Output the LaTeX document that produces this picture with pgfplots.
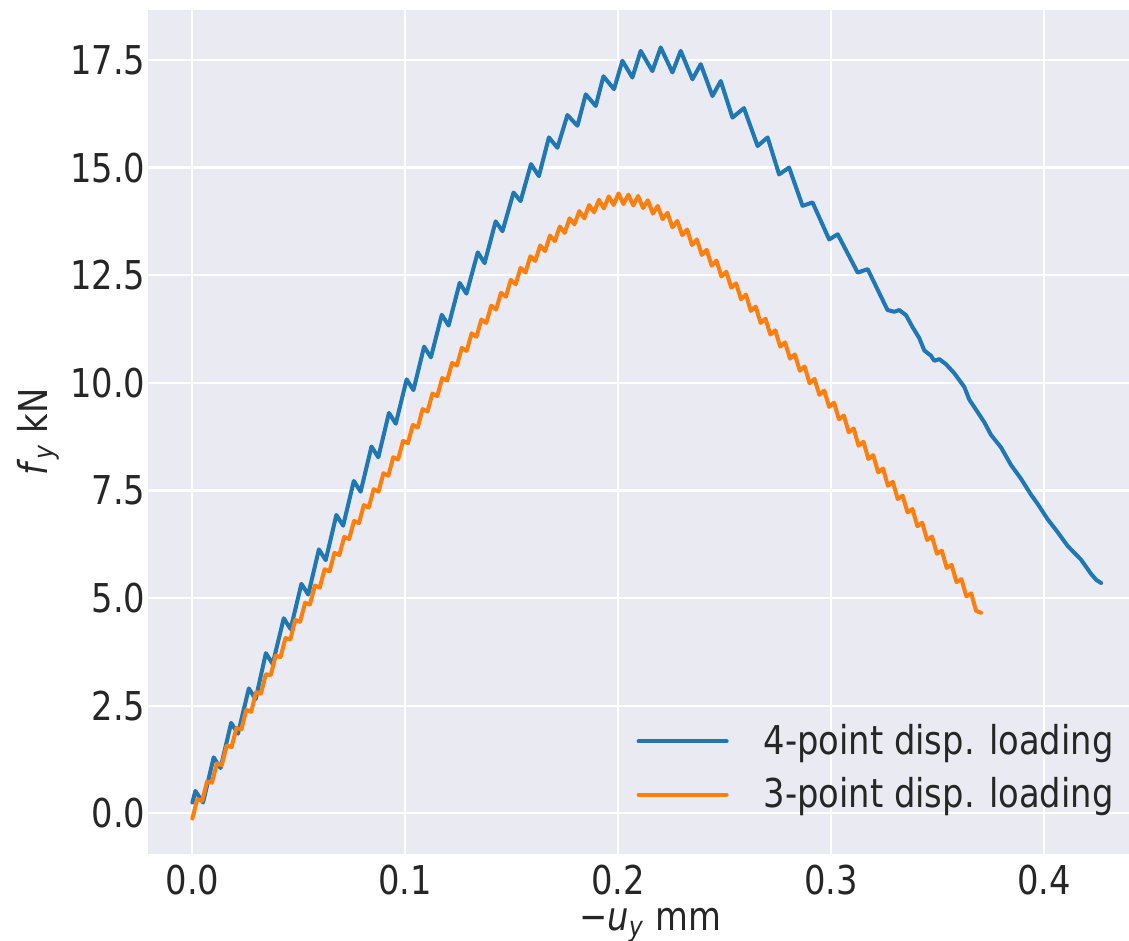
\documentclass[border=0pt]{standalone}
\usepackage{fontspec}
\setmainfont[FakeStretch=0.85]{DejaVu Sans}
\usepackage{pgfplots}
\pgfplotsset{compat=1.18}
\usepackage{pgfplotstable}

\definecolor{bgc}{HTML}{EAEAF2}
\definecolor{txt}{HTML}{262626}
\definecolor{c0}{HTML}{1F77B4}
\definecolor{c1}{HTML}{FF7F0E}
\newcommand\fs{\fontsize{14.3pt}{17pt}\selectfont}

% 4-point loading: peaks and troughs
\pgfplotstableread{
x y
0.0000 0.25
0.0014 0.52
0.0050 0.25
0.0100 1.30
0.0132 1.05
0.0182 2.10
0.0214 1.85
0.0265 2.90
0.0297 2.65
0.0345 3.72
0.0377 3.47
0.0429 4.53
0.0461 4.28
0.0512 5.33
0.0544 5.08
0.0594 6.13
0.0626 5.88
0.0676 6.93
0.0708 6.68
0.0758 7.72
0.0790 7.47
0.0841 8.52
0.0873 8.27
0.0923 9.30
0.0955 9.05
0.1006 10.08
0.1038 9.83
0.1088 10.84
0.1120 10.59
0.1171 11.58
0.1203 11.33
0.1255 12.32
0.1287 12.07
0.1340 13.03
0.1372 12.78
0.1424 13.75
0.1456 13.52
0.1508 14.42
0.1541 14.22
0.1590 15.08
0.1627 14.80
0.1674 15.70
0.1714 15.46
0.1761 16.22
0.1808 15.97
0.1847 16.70
0.1894 16.43
0.1930 17.12
0.1980 16.82
0.2019 17.48
0.2066 17.09
0.2105 17.71
0.2160 17.24
0.2199 17.79
0.2254 17.21
0.2293 17.71
0.2348 17.05
0.2387 17.40
0.2442 16.66
0.2481 17.01
0.2536 16.16
0.2590 16.38
0.2654 15.50
0.2701 15.70
0.2755 14.84
0.2802 15.00
0.2865 14.11
0.2912 14.19
0.2990 13.33
0.3030 13.45
0.3124 12.56
0.3171 12.64
0.3264 11.69
0.3296 11.65
0.3319 11.69
0.3351 11.57
0.3382 11.29
0.3413 11.04
0.3437 10.75
0.3468 10.63
0.3484 10.51
0.3507 10.55
0.3539 10.43
0.3578 10.22
0.3625 9.90
0.3648 9.61
0.3687 9.32
0.3719 9.08
0.3750 8.79
0.3797 8.50
0.3844 8.09
0.3891 7.77
0.3938 7.40
0.3970 7.18
0.4016 6.83
0.4060 6.55
0.4110 6.21
0.4173 5.89
0.4220 5.56
0.4245 5.42
0.4267 5.35
}\fourpt

% 3-point loading
\pgfplotstableread{
x y
0.0000 -0.12
0.0023 0.33
0.0046 0.29
0.0069 0.74
0.0092 0.71
0.0115 1.16
0.0138 1.12
0.0161 1.57
0.0184 1.54
0.0207 1.98
0.0230 1.95
0.0253 2.40
0.0276 2.36
0.0299 2.81
0.0322 2.78
0.0345 3.23
0.0368 3.21
0.0391 3.66
0.0414 3.63
0.0437 4.07
0.0460 4.04
0.0483 4.49
0.0506 4.45
0.0529 4.89
0.0552 4.85
0.0575 5.29
0.0598 5.24
0.0621 5.67
0.0644 5.62
0.0667 6.05
0.0690 6.00
0.0713 6.42
0.0736 6.37
0.0759 6.79
0.0782 6.74
0.0805 7.16
0.0828 7.10
0.0851 7.53
0.0874 7.47
0.0897 7.90
0.0920 7.84
0.0943 8.27
0.0966 8.22
0.0989 8.65
0.1012 8.60
0.1035 9.02
0.1058 8.96
0.1081 9.39
0.1104 9.33
0.1127 9.75
0.1150 9.69
0.1173 10.11
0.1196 10.05
0.1219 10.46
0.1242 10.40
0.1265 10.81
0.1288 10.74
0.1311 11.15
0.1334 11.07
0.1357 11.47
0.1380 11.39
0.1403 11.79
0.1426 11.70
0.1449 12.09
0.1472 12.00
0.1495 12.39
0.1518 12.29
0.1541 12.67
0.1564 12.56
0.1587 12.94
0.1610 12.83
0.1633 13.19
0.1656 13.06
0.1679 13.42
0.1702 13.29
0.1725 13.63
0.1748 13.48
0.1771 13.82
0.1794 13.68
0.1817 13.99
0.1840 13.82
0.1863 14.13
0.1886 13.96
0.1909 14.25
0.1932 14.05
0.1955 14.33
0.1978 14.13
0.2001 14.40
0.2024 14.15
0.2047 14.37
0.2070 14.12
0.2093 14.34
0.2116 14.06
0.2139 14.24
0.2162 13.93
0.2185 14.11
0.2208 13.80
0.2231 13.95
0.2254 13.61
0.2277 13.76
0.2300 13.43
0.2323 13.56
0.2346 13.20
0.2369 13.33
0.2392 12.97
0.2415 13.09
0.2438 12.72
0.2461 12.84
0.2484 12.47
0.2507 12.58
0.2530 12.21
0.2553 12.31
0.2576 11.94
0.2599 12.05
0.2622 11.67
0.2645 11.77
0.2668 11.39
0.2691 11.49
0.2714 11.12
0.2737 11.22
0.2760 10.84
0.2783 10.94
0.2806 10.56
0.2829 10.66
0.2852 10.28
0.2875 10.38
0.2898 9.99
0.2921 10.09
0.2944 9.72
0.2967 9.82
0.2990 9.44
0.3013 9.54
0.3036 9.15
0.3059 9.24
0.3082 8.85
0.3105 8.94
0.3128 8.54
0.3151 8.63
0.3174 8.23
0.3197 8.32
0.3220 7.92
0.3243 8.01
0.3266 7.61
0.3289 7.70
0.3312 7.30
0.3335 7.38
0.3358 6.99
0.3381 7.07
0.3404 6.67
0.3427 6.75
0.3450 6.35
0.3473 6.43
0.3496 6.03
0.3519 6.10
0.3542 5.70
0.3565 5.77
0.3588 5.37
0.3611 5.44
0.3634 5.04
0.3657 5.11
0.3680 4.70
0.3703 4.66
}\threept

\begin{document}
\begin{tikzpicture}
\begin{axis}[
    scale only axis,
    width=353.05pt, height=303.95pt,
    xmin=-0.0207, xmax=0.4398,
    ymin=-0.952, ymax=18.66,
    axis background/.style={fill=bgc},
    axis line style={draw=none},
    major tick length=0pt,
    grid=major,
    major grid style={white, line width=0.8pt},
    xtick={0,0.1,0.2,0.3,0.4},
    xticklabels={0.0,0.1,0.2,0.3,0.4},
    ytick={0,2.5,5,7.5,10,12.5,15,17.5},
    yticklabels={0.0,2.5,5.0,7.5,10.0,12.5,15.0,17.5},
    tick label style={font=\fs, text=txt},
    xticklabel style={inner sep=0pt, yshift=-3.5pt},
    yticklabel style={inner sep=0pt, xshift=-0.9pt},
    label style={font=\fs, text=txt, inner sep=0pt},
    xlabel={−\textit{u}\textsubscript{\textit{y}} mm},
    xlabel style={at={(axis description cs:0.5116,-0.0905)}, anchor=base},
    ylabel={\textit{f}\textsubscript{\textit{y}} kN},
    ylabel style={at={(axis description cs:-0.1342,0.5)}, anchor=north, rotate=0},
    legend style={draw=none, fill=none, inner sep=0pt, font=\fs, text=txt,
        at={(axis description cs:0.4973,0.1022)}, anchor=west,
        nodes={inner sep=0pt}, row sep=6.9pt,
        /tikz/every odd column/.append style={column sep=12.6pt}},
    legend cell align=left,
    legend image code/.code={\draw[#1] (0pt,0pt) -- (31.7pt,0pt);},
    every axis plot/.append style={line width=1.45pt, line join=round, line cap=round},
]
\addplot[c0] table[x=x, y=y] {\fourpt};
\addlegendentry{4-point disp. loading}
\addplot[c1] table[x=x, y=y] {\threept};
\addlegendentry{3-point disp. loading}
\end{axis}
\pgfresetboundingbox
\path (current axis.south west) ++(-53.39pt,-31.21pt) rectangle ++(406.44pt,338.76pt);
\end{tikzpicture}
\end{document}
